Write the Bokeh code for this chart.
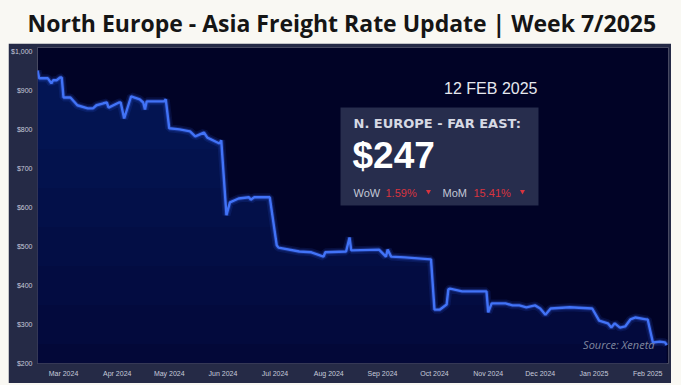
import numpy as np
import pandas as pd
from bokeh.plotting import figure
from bokeh.layouts import column
from bokeh.models import Range1d, FixedTicker, NumeralTickFormatter, DatetimeTickFormatter
from bokeh.core.properties import value
from bokeh.embed import file_html
from bokeh.resources import INLINE

# ---------------- data ----------------
title_text = "North Europe - Asia Freight Rate Update | Week 7/2025"
dates = [
    "2024-02-15", "2024-02-16", "2024-02-21", "2024-02-23", "2024-02-24", "2024-02-26",
    "2024-02-28", "2024-02-29", "2024-03-01", "2024-03-05", "2024-03-09", "2024-03-15",
    "2024-03-18", "2024-03-20", "2024-03-24", "2024-03-26", "2024-03-27", "2024-04-02",
    "2024-04-03", "2024-04-05", "2024-04-09", "2024-04-14", "2024-04-16", "2024-04-17",
    "2024-04-18", "2024-04-28", "2024-04-29", "2024-05-01", "2024-05-07", "2024-05-13",
    "2024-05-16", "2024-05-21", "2024-05-23", "2024-05-30", "2024-05-31", "2024-06-03",
    "2024-06-05", "2024-06-10", "2024-06-16", "2024-06-17", "2024-06-19", "2024-06-28",
    "2024-07-02", "2024-07-03", "2024-07-15", "2024-07-22", "2024-07-29", "2024-07-30",
    "2024-08-11", "2024-08-13", "2024-08-14", "2024-08-30", "2024-09-03", "2024-09-04",
    "2024-09-06", "2024-09-14", "2024-09-29", "2024-10-01", "2024-10-04", "2024-10-08",
    "2024-10-09", "2024-10-10", "2024-10-17", "2024-10-31", "2024-11-01", "2024-11-03",
    "2024-11-11", "2024-11-15", "2024-11-19", "2024-11-23", "2024-11-28", "2024-12-01",
    "2024-12-04", "2024-12-07", "2024-12-18", "2024-12-31", "2025-01-04", "2025-01-09",
    "2025-01-11", "2025-01-13", "2025-01-16", "2025-01-19", "2025-01-22", "2025-01-25",
    "2025-01-31", "2025-02-01", "2025-02-04", "2025-02-08", "2025-02-11", "2025-02-12",
]
rates = [
    951, 931, 931, 918, 926, 926,
    933, 933, 882, 882, 862, 854,
    854, 862, 867, 869, 856, 869,
    869, 828, 885, 877, 869, 851,
    872, 872, 877, 803, 800, 795,
    782, 792, 779, 764, 772, 580,
    613, 623, 626, 620, 626, 626,
    503, 497, 487, 485, 474, 485,
    487, 523, 490, 492, 474, 492,
    474, 472, 467, 338, 338, 351,
    390, 392, 385, 385, 331, 354,
    354, 349, 349, 344, 349, 341,
    325, 341, 344, 341, 310, 303,
    292, 303, 292, 295, 313, 318,
    313, 313, 254, 256, 254, 247,
]
y_ticks = [200, 300, 400, 500, 600, 700, 800, 900, 1000]
month_ticks = ["2024-03-01", "2024-04-01", "2024-05-01", "2024-06-01", "2024-07-01",
               "2024-08-01", "2024-09-01", "2024-10-01", "2024-11-01", "2024-12-01",
               "2025-01-01", "2025-02-01"]
date_label = "12 FEB 2025"
box_title = "N. EUROPE - FAR EAST:"
latest_rate = "$247"
wow_label, wow_value = "WoW", "1.59%"
mom_label, mom_value = "MoM", "15.41%"
source_text = "Source: Xeneta"

# ---------------- layout helpers ----------------
X_START = pd.Timestamp("2024-02-15")
X_END = pd.Timestamp("2025-02-13")
Y_START, Y_END = 200, 1010
FR_L, FR_R, FR_T, FR_B = 37, 668, 47, 363   # frame in page pixels


def px_x(px):
    frac = (px - FR_L) / (FR_R - FR_L)
    return (X_START + frac * (X_END - X_START)).to_pydatetime()


def px_y(py):
    frac = (FR_B - py) / (FR_B - FR_T)
    return Y_START + frac * (Y_END - Y_START)


CREAM = "#f9f8f3"

# ---------------- title ----------------
tp = figure(width=663, height=43, x_axis_type=None, y_axis_type=None,
            toolbar_location=None, output_backend="svg", title=title_text,
            min_border_left=29, min_border_right=3, min_border_top=0, min_border_bottom=0)
tp.margin = (0, 10, 0, 8)
tp.grid.visible = False
tp.outline_line_color = None
tp.background_fill_color = CREAM
tp.border_fill_color = CREAM
tp.title.align = "left"
tp.title.offset = -10
tp.title.standoff = 8
tp.title.text_font = "Open Sans"
tp.title.text_font_style = "bold"
tp.title.text_font_size = "23px"
tp.title.text_color = "#151515"

# ---------------- main chart ----------------
x = pd.to_datetime(dates)
v = np.array(rates, dtype=float)

p = figure(width=663, height=340, x_axis_type="datetime",
           x_range=Range1d(X_START.to_pydatetime(), X_END.to_pydatetime()),
           y_range=Range1d(Y_START, Y_END),
           toolbar_location=None, output_backend="svg",
           min_border_left=29, min_border_right=3, min_border_top=4, min_border_bottom=20)
p.margin = (0, 10, 2, 8)
p.background_fill_color = "#010326"
p.border_fill_color = "#252a46"
p.outline_line_color = None
p.grid.visible = False

for ax in (p.xaxis[0], p.yaxis[0]):
    ax.axis_line_color = None
    ax.major_tick_line_color = None
    ax.minor_tick_line_color = None
    ax.major_tick_out = 0
    ax.major_tick_in = 0
    ax.minor_tick_out = 0
    ax.minor_tick_in = 0
    ax.major_label_text_color = "#c6cadb"
    ax.major_label_text_font = "Liberation Sans"
    ax.major_label_text_font_size = "7px"
    ax.major_label_standoff = 5
p.xaxis.major_label_standoff = 6

p.yaxis.ticker = FixedTicker(ticks=y_ticks)
p.yaxis.formatter = NumeralTickFormatter(format="$0,0")
p.xaxis.ticker = FixedTicker(ticks=[pd.Timestamp(d).value / 1e6 for d in month_ticks])
fmt = "%b %Y"
p.xaxis.formatter = DatetimeTickFormatter(days=fmt, months=fmt, years=fmt, hours=fmt,
                                          minutes=fmt, seconds=fmt, milliseconds=fmt,
                                          microseconds=fmt, context=None)

# area under line with vertical gradient
p.varea(x=x, y1=np.full_like(v, Y_START), y2=v, fill_color="#030838", fill_alpha=1)
for lvl in range(250, 1000, 100):
    p.varea(x=x, y1=np.minimum(v, lvl), y2=v, fill_color="#1c3aa0", fill_alpha=0.05)

# glowing line
p.line(x, v, line_color="#3a6cff", line_width=8, line_alpha=0.12)
p.line(x, v, line_color="#3a6cff", line_width=4.5, line_alpha=0.25)
p.line(x, v, line_color="#4273f7", line_width=2.4)

# date label
p.text(x=[px_x(537)], y=[px_y(88)], text=[date_label], text_align="right",
       text_baseline="middle", text_font=value("Liberation Sans"),
       text_font_size="16px", text_color="#e6e8ef")

# info box
p.quad(left=[px_x(340)], right=[px_x(538)], top=[px_y(107)], bottom=[px_y(205)],
       fill_color="#272d4d", line_color=None)
p.text(x=[px_x(353)], y=[px_y(123)], text=[box_title], text_align="left",
       text_baseline="middle", text_font=value("DejaVu Sans"), text_font_style="bold",
       text_font_size="13px", text_color="#d6d9e4")
p.text(x=[px_x(352)], y=[px_y(155)], text=[latest_rate], text_align="left",
       text_baseline="middle", text_font=value("Liberation Sans"), text_font_style="bold",
       text_font_size="37px", text_color="#ffffff")
p.text(x=[px_x(353), px_x(442)], y=[px_y(192)] * 2, text=[wow_label, mom_label],
       text_align="left", text_baseline="middle", text_font=value("Liberation Sans"),
       text_font_size="11px", text_color="#c3c7d6")
p.text(x=[px_x(385), px_x(473)], y=[px_y(192)] * 2, text=[wow_value, mom_value],
       text_align="left", text_baseline="middle", text_font=value("Liberation Sans"),
       text_font_size="11px", text_color="#d9343f")
p.scatter(x=[px_x(428), px_x(522)], y=[px_y(191)] * 2, marker="inverted_triangle",
          size=5, fill_color="#d9343f", line_color=None)

# source
p.text(x=[px_x(654)], y=[px_y(344)], text=[source_text], text_align="right",
       text_baseline="middle", text_font=value("Open Sans"), text_font_style="italic",
       text_font_size="11px", text_color="#8088a0")

layout = column(tp, p, spacing=0, styles={"background-color": CREAM})
open("out.html", "w").write(file_html(layout, INLINE))
